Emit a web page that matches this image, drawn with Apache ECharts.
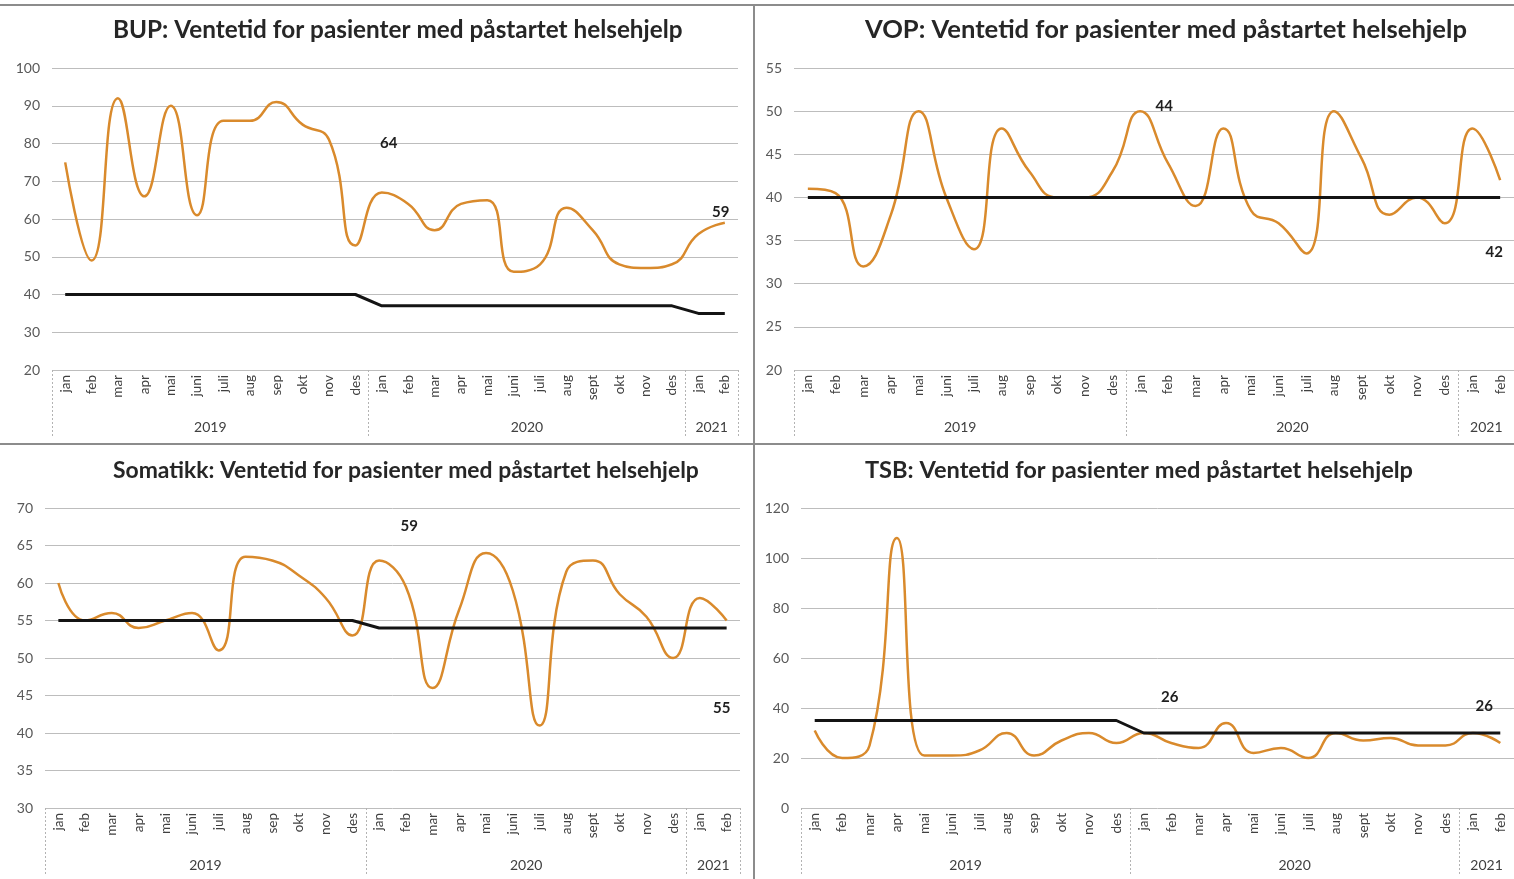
<!DOCTYPE html>
<html>
<head>
<meta charset="utf-8">
<script src="https://cdn.jsdelivr.net/npm/echarts@6/dist/echarts.min.js"></script>
<style>
  html, body { margin: 0; padding: 0; background: #fff; }
  #main { width: 1514px; height: 879px; }
</style>
</head>
<body>
<div id="main"></div>
<script>
// kategorier (måneder jan 2019 - feb 2021)
var months = ['jan', 'feb', 'mar', 'apr', 'mai', 'juni', 'juli', 'aug', 'sep', 'okt', 'nov', 'des',
              'jan', 'feb', 'mar', 'apr', 'mai', 'juni', 'juli', 'aug', 'sept', 'okt', 'nov', 'des',
              'jan', 'feb'];
var years = ['2019', '2020', '2021'];
var monthsPerYear = [12, 12, 2];

// BUP
var bupValues = [75, 49, 92, 66, 90, 61, 86, 86, 91, 85, 81, 53,
                 67, 64, 57, 64, 65, 46, 48, 63, 57, 48, 47, 48,
                 56, 59];
var bupTarget = [40, 40, 40, 40, 40, 40, 40, 40, 40, 40, 40, 40,
                 37, 37, 37, 37, 37, 37, 37, 37, 37, 37, 37, 37,
                 35, 35];
var bupTicks = [20, 30, 40, 50, 60, 70, 80, 90, 100];

// VOP
var vopValues = [41, 40.5, 32, 38, 50, 40, 34, 48, 43, 40, 40, 43,
                 50, 44, 39, 48, 38.5, 37, 33.5, 50, 44.5, 38, 40, 37,
                 48, 42];
var vopTarget = [40, 40, 40, 40, 40, 40, 40, 40, 40, 40, 40, 40,
                 40, 40, 40, 40, 40, 40, 40, 40, 40, 40, 40, 40,
                 40, 40];
var vopTicks = [20, 25, 30, 35, 40, 45, 50, 55];

// Somatikk
var somValues = [60, 55, 56, 54, 55, 56, 51, 63.5, 63, 61, 58, 53,
                 63, 59.5, 46, 56.5, 64, 59, 41, 61.5, 63, 58.5, 55.5, 50,
                 58, 55];
var somTarget = [55, 55, 55, 55, 55, 55, 55, 55, 55, 55, 55, 55,
                 54, 54, 54, 54, 54, 54, 54, 54, 54, 54, 54, 54,
                 54, 54];
var somTicks = [30, 35, 40, 45, 50, 55, 60, 65, 70];

// TSB
var tsbValues = [31, 20, 25, 108, 21, 21, 23, 30, 21, 27, 30, 26,
                 30, 26, 24, 34, 22, 24, 20, 30, 27, 28, 25, 25,
                 30, 26];
var tsbTarget = [35, 35, 35, 35, 35, 35, 35, 35, 35, 35, 35, 35,
                 30, 30, 30, 30, 30, 30, 30, 30, 30, 30, 30, 30,
                 30, 30];
var tsbTicks = [0, 20, 40, 60, 80, 100, 120];

// tekstetiketter i diagrammene
var noteTexts = ['64', '44', '59', '26'];

var titles = [
    'BUP: Ventetid for pasienter med påstartet helsehjelp',
    'VOP: Ventetid for pasienter med påstartet helsehjelp',
    'Somatikk: Ventetid for pasienter med påstartet helsehjelp',
    'TSB: Ventetid for pasienter med påstartet helsehjelp'
];

var FONT = 'Lato, "Open Sans", sans-serif';
var ORANGE = '#D98A2C';

// årsgrenser og midtpunkt for årsaksen
var yearEdges = [0], yearMids = [];
monthsPerYear.forEach(function (n) {
    var start = yearEdges[yearEdges.length - 1];
    yearMids.push(start + n / 2);
    yearEdges.push(start + n);
});

// layout for hvert panel
var panels = [
    { values: bupValues, target: bupTarget, ticks: bupTicks,
      grid: { left: 52, top: 68, width: 686, height: 302 },
      titleLeft: 108, titleTop: 13, titleSize: 24.3,
      note: { coord: [12, 80], offset: [7, 0] }, last: { offset: [-4, -11] } },
    { values: vopValues, target: vopTarget, ticks: vopTicks,
      grid: { left: 794, top: 68, width: 723, height: 302 },
      titleLeft: 860, titleTop: 12, titleSize: 25.6,
      note: { coord: [12, 50], offset: [24, -5] }, last: { offset: [-6, 72] } },
    { values: somValues, target: somTarget, ticks: somTicks,
      grid: { left: 45, top: 508, width: 695, height: 300 },
      titleLeft: 108, titleTop: 454, titleSize: 22.9,
      note: { coord: [12, 65], offset: [30, -19] }, last: { offset: [-5, 88] } },
    { values: tsbValues, target: tsbTarget, ticks: tsbTicks,
      grid: { left: 801, top: 508, width: 716, height: 300 },
      titleLeft: 860, titleTop: 453, titleSize: 23.6,
      note: { coord: [12, 40], offset: [26, -11] }, last: { offset: [-16, -37] } }
];

var option = {
    backgroundColor: '#fff',
    animation: false,
    title: [], grid: [], xAxis: [], yAxis: [], series: [],
    graphic: [
        // rammelinjer mellom panelene
        { type: 'line', shape: { x1: 0, y1: 5, x2: 1514, y2: 5 }, style: { stroke: '#8c8c8c', lineWidth: 2 } },
        { type: 'line', shape: { x1: 754, y1: 5, x2: 754, y2: 879 }, style: { stroke: '#8c8c8c', lineWidth: 2 } },
        { type: 'line', shape: { x1: 0, y1: 444, x2: 1514, y2: 444 }, style: { stroke: '#8c8c8c', lineWidth: 2 } }
    ]
};

panels.forEach(function (p, i) {
    var ticks = p.ticks;
    option.title.push({
        text: titles[i], left: p.titleLeft, top: p.titleTop,
        textStyle: { fontFamily: FONT, fontWeight: 'bold', fontSize: p.titleSize, color: '#262626' }
    });
    option.grid.push(p.grid);

    // måneder
    option.xAxis.push({
        type: 'category', gridIndex: i, data: months, position: 'bottom', boundaryGap: true,
        axisLine: { show: false, onZero: false }, axisTick: { show: false },
        axisLabel: { interval: 0, rotate: 90, margin: 5, fontSize: 13.5, color: '#404040', fontFamily: FONT }
    });
    // år
    option.xAxis.push({
        type: 'value', gridIndex: i, min: 0, max: months.length, position: 'bottom',
        axisLine: { show: false, onZero: false }, splitLine: { show: false },
        axisTick: { show: true, customValues: yearEdges, length: 67,
                    lineStyle: { color: '#b3b3b3', type: [2, 2] } },
        axisLabel: { customValues: yearMids, margin: 50, fontSize: 14, color: '#404040', fontFamily: FONT,
                     formatter: function (v) { return years[yearMids.indexOf(v)]; } }
    });

    option.yAxis.push({
        type: 'value', gridIndex: i,
        min: ticks[0], max: ticks[ticks.length - 1], interval: ticks[1] - ticks[0],
        axisLine: { show: false }, axisTick: { show: false },
        axisLabel: { margin: 12, fontSize: 14, color: '#595959', fontFamily: FONT },
        splitLine: { lineStyle: { color: '#bdbdbd', width: 1 } }
    });

    var lastIdx = p.values.length - 1;
    option.series.push({
        type: 'line', xAxisIndex: i * 2, yAxisIndex: i, data: p.values,
        smooth: 0.5, symbol: 'none', z: 3,
        lineStyle: { color: ORANGE, width: 2.5 },
        markPoint: {
            symbol: 'circle', symbolSize: 1, itemStyle: { color: 'transparent' },
            label: { show: true, position: 'inside', fontFamily: FONT, fontWeight: 'bold', fontSize: 15, color: '#1f1f1f' },
            data: [
                { coord: p.note.coord, value: noteTexts[i], label: { offset: p.note.offset, formatter: noteTexts[i] } },
                { coord: [lastIdx, p.values[lastIdx]], value: p.values[lastIdx],
                  label: { offset: p.last.offset, formatter: String(p.values[lastIdx]) } }
            ]
        }
    });
    option.series.push({
        type: 'line', xAxisIndex: i * 2, yAxisIndex: i, data: p.target,
        smooth: false, symbol: 'none', z: 4,
        lineStyle: { color: '#141414', width: 3 }
    });
});

var myChart = echarts.init(document.getElementById('main'));
myChart.setOption(option);
</script>
</body>
</html>
